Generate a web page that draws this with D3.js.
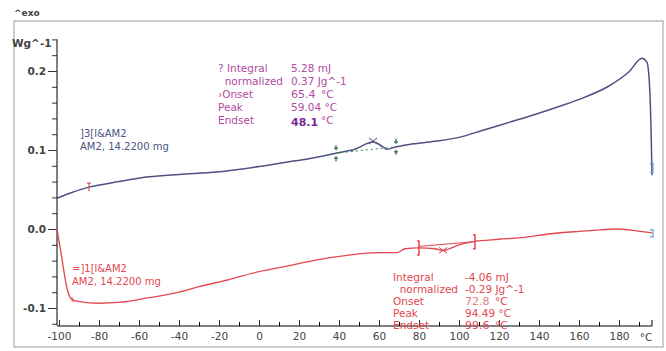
<!DOCTYPE html>
<html>
<head>
<meta charset="utf-8">
<script src="https://cdn.jsdelivr.net/npm/d3@7"></script>
<style>
  body { margin: 0; background: #fff; }
  text { font-family: "DejaVu Sans", sans-serif; }
</style>
</head>
<body>
<div id="chart"></div>
<script>
// temperature (°C) and heat flow (W/g)
const blueT = [-101, -95, -85, -70, -55, -40, -21, 0, 12, 25, 38.5, 48, 57, 62, 64, 68.5, 75, 88, 100, 112, 125, 138, 150, 163, 175, 185, 191.5, 194, 195.5, 196.5];
const blueV = [0.039, 0.045, 0.053, 0.060, 0.066, 0.069, 0.072, 0.079, 0.084, 0.089, 0.096, 0.101, 0.110, 0.104, 0.101, 0.104, 0.107, 0.111, 0.116, 0.125, 0.135, 0.145, 0.155, 0.167, 0.181, 0.199, 0.216, 0.211, 0.17, 0.068];

const redT = [-101, -99, -96, -94, -90, -80, -70, -55, -40, -30, -15, 0, 12, 29, 45, 59, 69, 73, 80, 88, 92, 100, 107, 120, 131, 146, 160, 171, 178, 188, 196.5];
const redV = [0.0, -0.03, -0.075, -0.088, -0.092, -0.094, -0.093, -0.087, -0.080, -0.073, -0.064, -0.054, -0.048, -0.039, -0.033, -0.030, -0.030, -0.025, -0.024, -0.025, -0.027, -0.020, -0.016, -0.013, -0.011, -0.006, -0.003, -0.001, 0.000, -0.002, -0.005];

const xMajor = [-100, -80, -60, -40, -20, 0, 20, 40, 60, 80, 100, 120, 140, 160, 180];
const yMajor = [-0.1, 0.0, 0.1, 0.2];

const blueNotes = [["? Integral", "5.28 mJ"], ["  normalized", "0.37 Jg^-1"], ["›Onset", "65.4"], ["Peak", "59.04 °C"], ["Endset", "48.1"]];
const redNotes = [["Integral", "-4.06 mJ"], ["  normalized", "-0.29 Jg^-1"], ["Onset", "72.8"], ["Peak", "94.49 °C"], ["Endset", "99.6"]];

const width = 666, height = 351;
const blueCol = "#4d5280", redCol = "#e2484e";

let svg = d3.select("#chart").append("svg")
    .attr("width", width)
    .attr("height", height);

// scales
let x = d3.scaleLinear().domain([-100, 180]).range([59, 619]);
let y = d3.scaleLinear().domain([0, 0.2]).range([229, 71]);

// outer frame
svg.append("rect")
    .attr("x", 14).attr("y", 21)
    .attr("width", 649).attr("height", 326)
    .attr("fill", "none").attr("stroke", "#9a9a9a");

svg.append("text").attr("x", 14).attr("y", 16)
    .attr("font-size", 9).attr("font-weight", "bold").attr("fill", "#444")
    .text("^exo");

// y axis
let yMinor = d3.range(-0.12, 0.245, 0.02);
svg.append("g").attr("transform", "translate(57,0)")
    .call(d3.axisLeft(y).tickValues(yMinor).tickSize(5).tickFormat(""))
    .call(g => g.select(".domain").remove());
let yAx = svg.append("g").attr("transform", "translate(57,0)")
    .call(d3.axisLeft(y).tickValues([]).tickSize(0));
yAx.select(".domain").attr("d", `M0,${y(0.24)}V${y(-0.122)}`);
let yLab = svg.append("g").attr("transform", "translate(57,0)")
    .call(d3.axisLeft(y).tickValues(yMajor).tickSize(9).tickPadding(2).tickFormat(d => d.toFixed(1)));
yLab.select(".domain").remove();
yLab.selectAll("text").attr("font-size", 10.5).attr("font-weight", "bold").attr("fill", "#444");
svg.selectAll("g line").attr("stroke", "#333");

svg.append("text").attr("x", 12).attr("y", 47)
    .attr("font-size", 10.5).attr("font-weight", "bold").attr("fill", "#444")
    .text("Wg^-1");

// x axis (ticks pointing up)
let axY = 326;
svg.append("g").attr("transform", `translate(0,${axY})`)
    .call(d3.axisBottom(x).tickValues(d3.range(-90, 191, 20)).tickSize(-4).tickFormat(""))
    .call(g => g.select(".domain").remove());
let xAx = svg.append("g").attr("transform", `translate(0,${axY})`)
    .call(d3.axisBottom(x).tickValues(xMajor).tickSize(-6).tickPadding(7).tickFormat(d => String(d)));
xAx.select(".domain").attr("d", `M${x(-101)},0H${x(196.5)}V-6`);
xAx.selectAll("text").attr("font-size", 10.5).attr("fill", "#444");
xAx.selectAll("line").attr("stroke", "#333");
svg.append("text").attr("x", 646).attr("y", axY + 15)
    .attr("text-anchor", "middle").attr("font-size", 10.5).attr("fill", "#444")
    .text("°C");

// curves
let line = d3.line().x(d => x(d[0])).y(d => y(d[1])).curve(d3.curveMonotoneX);
let blue = blueT.map((t, i) => [t, blueV[i]]);
let red = redT.map((t, i) => [t, redV[i]]);

svg.append("path").attr("d", line(red))
    .attr("fill", "none").attr("stroke", redCol).attr("stroke-width", 1.3);
svg.append("path").attr("d", line(blue))
    .attr("fill", "none").attr("stroke", blueCol).attr("stroke-width", 1.5);

// blue integration markers
let bA = [38.5, 0.096], bB = [68.5, 0.104], bP = [57, 0.110];
svg.append("line")
    .attr("x1", x(bA[0])).attr("y1", y(bA[1])).attr("x2", x(bB[0])).attr("y2", y(bB[1]))
    .attr("stroke", "#3c8c62").attr("stroke-width", 1).attr("stroke-dasharray", "2,3");
[bA, bB].forEach(p => {
  let cx = x(p[0]), cy = y(p[1]);
  svg.append("path")
    .attr("d", `M${cx},${cy - 8}V${cy - 3}M${cx},${cy + 3}V${cy + 8}M${cx - 2},${cy - 5}H${cx + 2}M${cx - 2},${cy + 5}H${cx + 2}`)
    .attr("stroke", "#2f6e55").attr("stroke-width", 1.3);
});
let px = x(bP[0]), py = y(bP[1]) - 1;
svg.append("path").attr("d", `M${px - 4},${py - 3}L${px + 4},${py + 3}M${px - 4},${py + 3}L${px + 4},${py - 3}`)
    .attr("stroke", blueCol).attr("stroke-width", 1);

// red integration markers
let rA = [80, -0.024], rB = [108, -0.016], rP = [92, -0.027];
svg.append("line")
    .attr("x1", x(rA[0])).attr("y1", y(-0.022)).attr("x2", x(rB[0])).attr("y2", y(rB[1]))
    .attr("stroke", redCol).attr("stroke-width", 1);
[rA, rB].forEach(p => {
  let cx = x(p[0]), cy = y(p[1]);
  svg.append("path")
    .attr("d", `M${cx - 2},${cy - 7}H${cx}V${cy + 7}H${cx - 2}`)
    .attr("fill", "none").attr("stroke", redCol).attr("stroke-width", 1.5);
});
let qx = x(rP[0]), qy = y(rP[1]);
svg.append("path").attr("d", `M${qx - 4},${qy - 3}L${qx + 4},${qy + 3}M${qx - 4},${qy + 3}L${qx + 4},${qy - 3}`)
    .attr("stroke", redCol).attr("stroke-width", 1);

// small end markers
svg.append("path").attr("d", `M${x(-85) - 2},${y(0.053) - 4}H${x(-85) + 2}M${x(-85)},${y(0.053) - 4}V${y(0.053) + 4}`)
    .attr("stroke", "#e05060").attr("stroke-width", 1.2);
svg.append("path").attr("d", `M${x(-93.5)},${y(-0.086)}v4h3`)
    .attr("fill", "none").attr("stroke", redCol).attr("stroke-width", 1);
svg.append("path").attr("d", `M${x(196.5) - 2},${y(0.083)}h3v9h-3`)
    .attr("fill", "none").attr("stroke", "#5aa0d8").attr("stroke-width", 1.2);
svg.append("path").attr("d", `M${x(196.5) - 2},${y(-0.001)}h3v7h-3`)
    .attr("fill", "none").attr("stroke", "#5aa0d8").attr("stroke-width", 1.2);

// curve labels
function label(lines, x0, y0, col) {
  lines.forEach((t, i) => {
    svg.append("text").attr("x", x0).attr("y", y0 + i * 13)
      .attr("font-size", 10).attr("fill", col).text(t);
  });
}
label(["]3[l&AM2", "AM2, 14.2200 mg"], 80, 137, blueCol);
label(["=]1[l&AM2", "AM2, 14.2200 mg"], 72, 272, redCol);

// result tables
function notes(rows, x0, x1, y0, step, col, serifCol, serifIdx) {
  rows.forEach((r, i) => {
    let yy = y0 + i * step;
    svg.append("text").attr("x", x0).attr("y", yy)
      .attr("font-size", 10.5).attr("fill", col)
      .attr("xml:space", "preserve").style("white-space", "pre").text(r[0]);
    if (serifIdx.includes(i)) {
      svg.append("text").attr("x", x1).attr("y", yy + (i === 4 && col !== redCol ? 2 : 0))
        .attr("font-size", 11).attr("font-family", "Liberation Serif, serif")
        .attr("font-weight", i === 4 && col !== redCol ? "bold" : "normal")
        .attr("fill", serifCol(i)).text(r[1]);
      svg.append("text").attr("x", x1 + 30).attr("y", yy)
        .attr("font-size", 10.5).attr("fill", col).text("°C");
    } else {
      svg.append("text").attr("x", x1).attr("y", yy)
        .attr("font-size", 10.5).attr("fill", col).text(r[1]);
    }
  });
}
notes(blueNotes, 218, 291, 72, 13, "#b04aa2", i => i === 4 ? "#7a2a9c" : "#b04aa2", [2, 4]);
notes(redNotes, 393, 465, 281, 12, redCol, i => i === 2 ? "#e88080" : redCol, [2, 4]);
</script>
</body>
</html>
